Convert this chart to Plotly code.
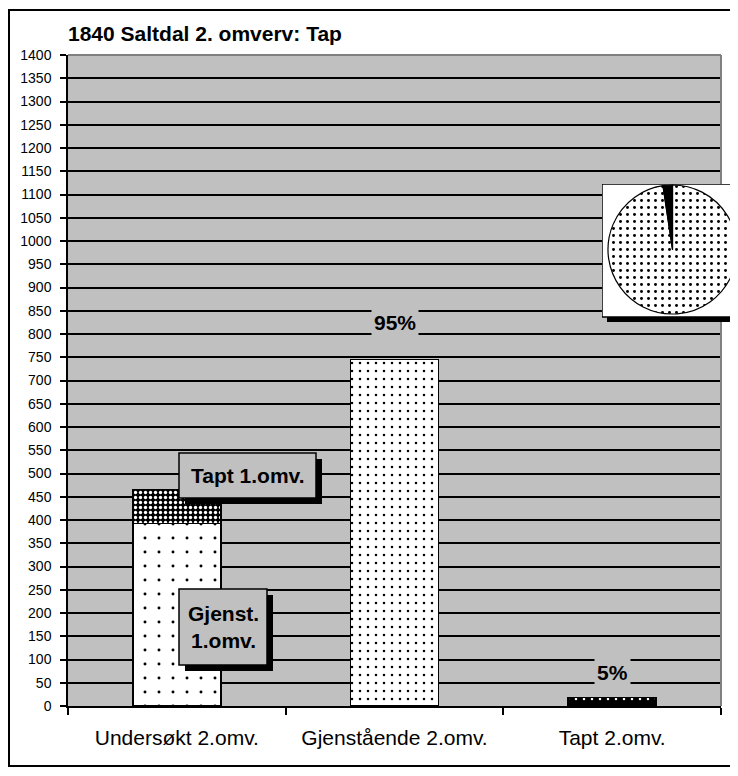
import plotly.graph_objects as go

# ---- data ----
categories = ["Undersøkt 2.omv.", "Gjenstående 2.omv.", "Tapt 2.omv."]
gjenst_1omv = [393]        # Undersøkt 2.omv. – lower stack
tapt_1omv = [73]           # Undersøkt 2.omv. – upper stack
gjenstaaende_2omv = [745]
tapt_2omv = [18]
pie_labels = ["Gjenstående 2.omv.", "Tapt 2.omv."]
pie_values = [745, 18]
pct_labels = ["95%", "5%"]
y_tick_vals = list(range(0, 1401, 50))
title_text = "1840 Saltdal 2. omverv: Tap"

# page has an 8px body margin -> figure is 8px smaller and all
# reference pixel positions are shifted by OFF
OFF = 8
W, H = 738 - OFF, 776 - OFF
PLOT_L, PLOT_T, PLOT_B, PLOT_R = 68, 55, 706, 721   # reference window px
ML = PLOT_L - OFF
MT = PLOT_T - OFF
MB = H - (PLOT_B - OFF)
PAPER_W = W - ML          # margin r = 0
PLOT_W = PLOT_R - PLOT_L
PLOT_H = PLOT_B - PLOT_T

FONT = "Liberation Sans, Arial, sans-serif"
GREY = "#C0C0C0"


def px(x):          # reference window px -> paper x
    return (x - PLOT_L) / PAPER_W


def py(y):          # reference window px -> paper y
    return (PLOT_B - y) / PLOT_H


fig = go.Figure()

line = dict(color="black", width=1.5)
fig.add_trace(go.Bar(
    x=[categories[0]], y=gjenst_1omv, name="Gjenst. 1.omv.",
    marker=dict(line=line, pattern=dict(shape=".", fgcolor="black", bgcolor="white",
                                        size=14, solidity=0.035, fillmode="replace")),
))
fig.add_trace(go.Bar(
    x=[categories[0]], y=tapt_1omv, name="Tapt 1.omv.",
    marker=dict(line=line, pattern=dict(shape=".", fgcolor="white", bgcolor="black",
                                        size=5, solidity=0.35, fillmode="replace")),
))
fig.add_trace(go.Bar(
    x=[categories[1]], y=gjenstaaende_2omv, name="Gjenstående 2.omv.",
    marker=dict(line=line, pattern=dict(shape=".", fgcolor="black", bgcolor="white",
                                        size=8, solidity=0.08, fillmode="replace")),
))
fig.add_trace(go.Bar(
    x=[categories[2]], y=tapt_2omv, name="Tapt 2.omv.",
    marker=dict(line=line, pattern=dict(shape=".", fgcolor="white", bgcolor="black",
                                        size=8, solidity=0.08, fillmode="replace")),
))

# inset frame for the pie: its own hidden subplot, so it sits above the gridlines
BOX_X0, BOX_X1, BOX_Y0, BOX_Y1 = 602, 738, 184, 322   # px extent incl. shadow
SH = 5
bw, bh = BOX_X1 - BOX_X0, BOX_Y1 - BOX_Y0
fig.add_trace(go.Scatter(   # shadow
    x=[SH / bw, 1, 1, SH / bw, SH / bw], y=[0, 0, 1 - SH / bh, 1 - SH / bh, 0],
    mode="lines", fill="toself", fillcolor="black", line=dict(color="black", width=0),
    xaxis="x2", yaxis="y2", hoverinfo="skip", showlegend=False, cliponaxis=False))
fig.add_trace(go.Scatter(   # white box
    x=[0, 1, 1, 0, 0], y=[SH / bh, SH / bh, 1, 1, SH / bh],
    mode="lines", fill="toself", fillcolor="white", line=dict(color="black", width=1.5),
    xaxis="x2", yaxis="y2", hoverinfo="skip", showlegend=False, cliponaxis=False))

fig.add_trace(go.Pie(
    labels=pie_labels, values=pie_values, sort=False, direction="clockwise",
    rotation=0, textinfo="none", hoverinfo="label+value+percent", showlegend=False,
    marker=dict(colors=["white", "black"], line=dict(color="black", width=1.2),
                pattern=dict(shape=[".", ""], fgcolor=["black", "black"],
                             bgcolor=["white", "black"], size=7, solidity=0.14,
                             fillmode="replace")),
    domain=dict(x=[px(608), px(737)], y=[py(314), py(185)]),
))

shapes = [
    # outer frame
    dict(type="rect", xref="paper", yref="paper", x0=px(9), x1=px(735), y0=py(766), y1=py(10),
         line=dict(color="black", width=2), fillcolor="rgba(0,0,0,0)", layer="below"),
    # plot area top & right grey border
    dict(type="line", xref="paper", yref="paper", x0=0, x1=px(PLOT_R), y0=1, y1=1,
         line=dict(color="#808080", width=2), layer="above"),
    dict(type="line", xref="paper", yref="paper", x0=px(PLOT_R), x1=px(PLOT_R), y0=0, y1=py(BOX_Y1),
         line=dict(color="#808080", width=2), layer="above"),
    dict(type="line", xref="paper", yref="paper", x0=px(PLOT_R), x1=px(PLOT_R), y0=py(BOX_Y0), y1=1,
         line=dict(color="#808080", width=2), layer="above"),
    # "Tapt 1.omv." label box
    dict(type="rect", xref="paper", yref="paper", x0=px(185), x1=px(322), y0=py(504), y1=py(459),
         line=dict(width=0), fillcolor="black", layer="above"),
    dict(type="rect", xref="paper", yref="paper", x0=px(179), x1=px(316), y0=py(498), y1=py(453),
         line=dict(color="black", width=1.5), fillcolor=GREY, layer="above"),
    # "Gjenst. 1.omv." label box
    dict(type="rect", xref="paper", yref="paper", x0=px(185), x1=px(273), y0=py(671), y1=py(595),
         line=dict(width=0), fillcolor="black", layer="above"),
    dict(type="rect", xref="paper", yref="paper", x0=px(179), x1=px(267), y0=py(665), y1=py(589),
         line=dict(color="black", width=1.5), fillcolor=GREY, layer="above"),
]

lab_font = dict(family=FONT, size=21, color="black")
annotations = [
    dict(text="<b>Tapt 1.omv.</b>", xref="paper", yref="paper", x=px(248), y=py(475),
         showarrow=False, font=lab_font, xanchor="center", yanchor="middle"),
    dict(text="<b>Gjenst.<br>1.omv.</b>", xref="paper", yref="paper", x=px(223), y=py(627),
         showarrow=False, font=lab_font, xanchor="center", yanchor="middle"),
    dict(text="<b>" + pct_labels[0] + "</b>", xref="x", yref="y", x=categories[1],
         y=gjenstaaende_2omv[0], yshift=37, showarrow=False, font=lab_font, bgcolor=GREY,
         borderpad=2, xanchor="center", yanchor="middle"),
    dict(text="<b>" + pct_labels[1] + "</b>", xref="x", yref="y", x=categories[2],
         y=tapt_2omv[0], yshift=25, showarrow=False, font=lab_font, bgcolor=GREY,
         borderpad=2, xanchor="center", yanchor="middle"),
]

fig.update_layout(
    width=W, height=H,
    margin=dict(l=ML, r=0, t=MT, b=MB, pad=0, autoexpand=False),
    paper_bgcolor="white", plot_bgcolor=GREY,
    barmode="stack", bargap=0.596,
    showlegend=False,
    title=dict(text="<b>" + title_text + "</b>", xref="container", yref="container",
               x=ML / W, xanchor="left", y=1 - (34 - OFF) / H, yanchor="middle",
               font=dict(family=FONT, size=21, color="black")),
    shapes=shapes, annotations=annotations,
    xaxis=dict(domain=[0, PLOT_W / PAPER_W], type="category", categoryorder="array",
               categoryarray=categories, tickson="boundaries", ticks="outside", ticklen=7,
               tickwidth=1.5, tickcolor="black", showline=True, linecolor="black", linewidth=1.5,
               showgrid=False, ticklabelstandoff=12, automargin=False,
               tickfont=dict(family=FONT, size=21, color="black")),
    yaxis=dict(range=[0, 1400], tickvals=y_tick_vals, ticks="outside", ticklen=6,
               tickwidth=1.5, tickcolor="black", showline=True, linecolor="black", linewidth=1.5,
               showgrid=True, gridcolor="black", gridwidth=1.5, zeroline=False,
               ticklabelstandoff=6, automargin=False,
               tickfont=dict(family=FONT, size=14, color="black")),
    xaxis2=dict(domain=[px(BOX_X0), min(1, px(BOX_X1))], range=[0, 1], visible=False,
                anchor="y2", fixedrange=True),
    yaxis2=dict(domain=[py(BOX_Y1), py(BOX_Y0)], range=[0, 1], visible=False,
                anchor="x2", fixedrange=True),
)

fig.write_html("out.html")
